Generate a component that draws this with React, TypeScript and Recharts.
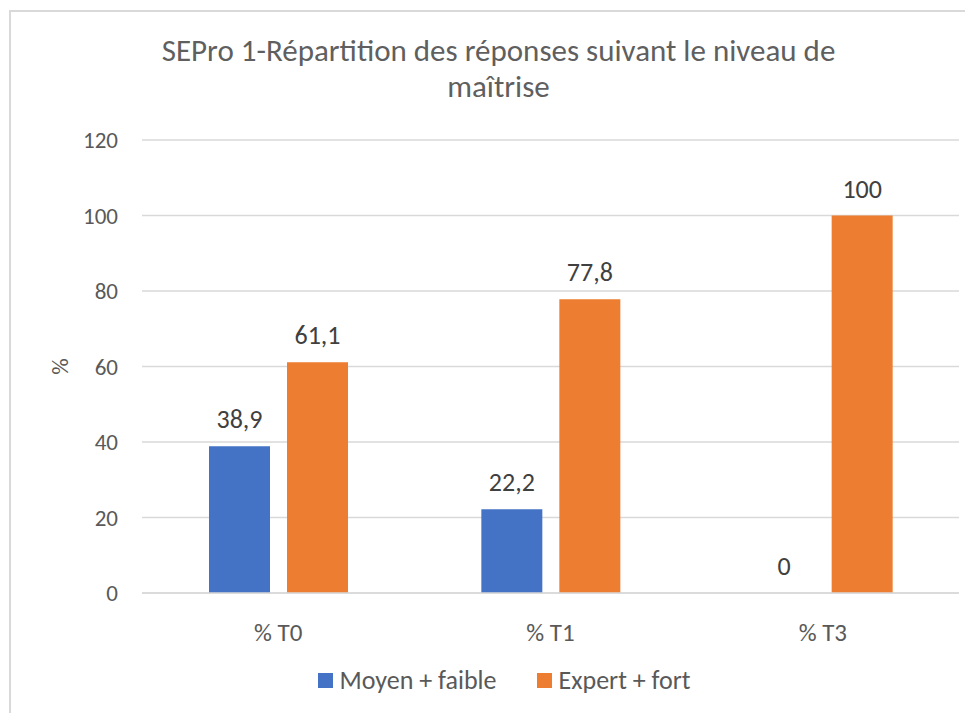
import { BarChart, Bar, XAxis, YAxis, CartesianGrid, LabelList } from "recharts"

const categories = ["% T0", "% T1", "% T3"]
const moyenFaible = [38.9, 22.2, 0]
const expertFort = [61.1, 77.8, 100]
const yTicks = [0, 20, 40, 60, 80, 100, 120]

const FONT = "Carlito, Calibri, Lato, 'Open Sans', sans-serif"
const GREY = "#595959"
const BLUE = "#4472C4"
const ORANGE = "#ED7D31"

const data = categories.map((name, i) => ({
  name,
  moyen: moyenFaible[i],
  expert: expertFort[i],
}))

const fmt = (v: any) => String(v).replace(".", ",")

function LegendBox() {
  const items = [
    { label: "Moyen + faible", color: BLUE },
    { label: "Expert + fort", color: ORANGE },
  ]
  return (
    <div
      style={{
        position: "absolute",
        left: 27,
        width: 938,
        top: 656,
        height: 32,
        display: "flex",
        justifyContent: "center",
        alignItems: "center",
        gap: 40,
        fontFamily: FONT,
        fontSize: 26,
        color: GREY,
      }}
    >
      {items.map((it) => (
        <div key={it.label} style={{ display: "flex", alignItems: "center", gap: 7 }}>
          <span style={{ width: 15, height: 15, background: it.color, display: "inline-block" }} />
          <span>{it.label}</span>
        </div>
      ))}
    </div>
  )
}

export default function App() {
  return (
    <div style={{ position: "relative", width: 965, height: 705, background: "#fff" }}>
      <div
        style={{
          position: "absolute",
          left: 1,
          top: 2,
          right: 0,
          bottom: 0,
          borderLeft: "2px solid #D9D9D9",
          borderTop: "2px solid #D9D9D9",
        }}
      />
      <div
        style={{
          position: "absolute",
          top: 24,
          left: 8,
          width: 965,
          textAlign: "center",
          fontFamily: FONT,
          fontSize: 31,
          lineHeight: "36px",
          color: "#5f5f5f",
        }}
      >
        SEPro 1-Répartition des réponses suivant le niveau de
        <br />
        maîtrise
      </div>
      <BarChart
        width={965}
        height={705}
        data={data}
        margin={{ top: 132, right: 14, left: 0, bottom: 80 }}
        barSize={61}
        barGap={17}
        style={{ position: "absolute", left: 0, top: 0 }}
      >
        <CartesianGrid vertical={false} stroke="#D9D9D9" strokeWidth={1.5} />
        <XAxis
          dataKey="name"
          tickLine={false}
          axisLine={{ stroke: "#D9D9D9", strokeWidth: 1.5 }}
          tick={{ fontFamily: FONT, fontSize: 25, fill: GREY }}
          tickMargin={24}
          height={40}
        />
        <YAxis
          domain={[0, 120]}
          ticks={yTicks}
          width={134}
          tickLine={false}
          axisLine={false}
          tickMargin={18}
          tick={{ fontFamily: FONT, fontSize: 23, fill: GREY }}
          label={{
            value: "%",
            angle: -90,
            position: "insideLeft",
            offset: 52,
            style: { fontFamily: FONT, fontSize: 23, fill: GREY, textAnchor: "middle" },
          }}
        />
        <Bar
          dataKey="moyen"
          name="Moyen + faible"
          fill={BLUE}
          isAnimationActive={false}
          minPointSize={(v: number) => (v === 0 ? 0.01 : 0)}
        >
          <LabelList
            dataKey="moyen"
            position="top"
            offset={18}
            formatter={fmt}
            style={{ fontFamily: FONT, fontSize: 26, fill: "#404040" }}
          />
        </Bar>
        <Bar dataKey="expert" name="Expert + fort" fill={ORANGE} isAnimationActive={false}>
          <LabelList
            dataKey="expert"
            position="top"
            offset={18}
            formatter={fmt}
            style={{ fontFamily: FONT, fontSize: 26, fill: "#404040" }}
          />
        </Bar>
      </BarChart>
      <LegendBox />
    </div>
  )
}
